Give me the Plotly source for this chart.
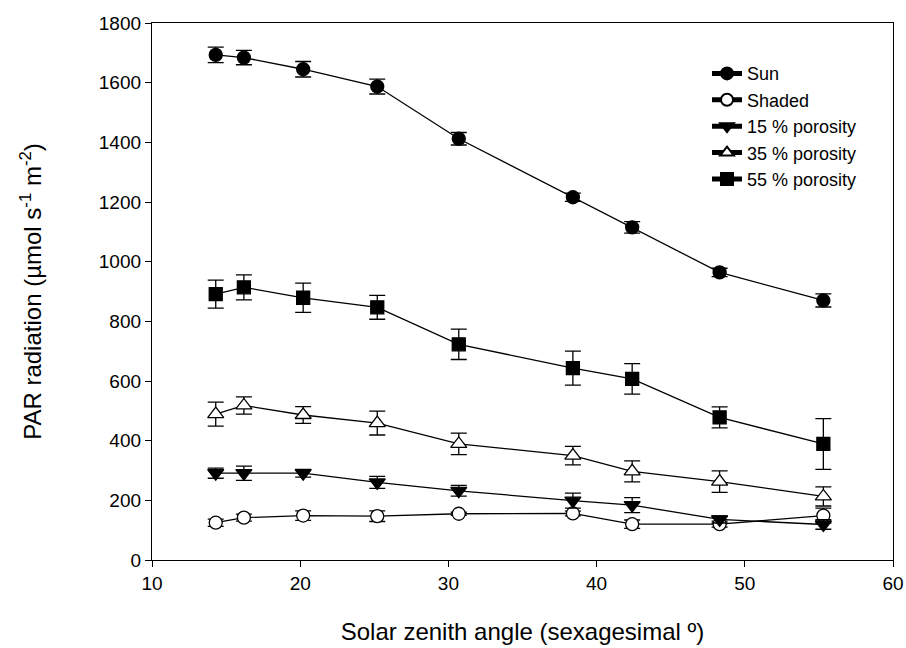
import plotly.graph_objects as go

angle = [14.3, 16.2, 20.2, 25.2, 30.7, 38.4, 42.4, 48.3, 55.3]

sun = [1693, 1684, 1645, 1587, 1412, 1216, 1115, 964, 870]
sun_err = [26, 24, 26, 25, 21, 14, 19, 14, 22]

shaded = [125, 142, 149, 147, 155, 156, 120, 120, 149]
shaded_err = [12, 12, 16, 18, 5, 8, 14, 10, 25]

p15 = [291, 291, 291, 260, 232, 199, 184, 136, 119]
p15_err = [17, 24, 13, 20, 18, 25, 25, 12, 16]

p35 = [489, 518, 486, 459, 389, 350, 297, 263, 213]
p35_err = [40, 29, 28, 40, 36, 31, 35, 36, 32]

p55 = [891, 914, 879, 847, 723, 643, 607, 478, 389]
p55_err = [47, 42, 49, 40, 51, 57, 51, 35, 85]

series = [
    ("Sun", sun, sun_err, "circle", "black", 13),
    ("Shaded", shaded, shaded_err, "circle", "white", 13),
    ("15 % porosity", p15, p15_err, "triangle-down", "black", 14),
    ("35 % porosity", p35, p35_err, "triangle-up", "white", 14),
    ("55 % porosity", p55, p55_err, "square", "black", 13),
]

fig = go.Figure()
for name, y, e, sym, fill, sz in series:
    fig.add_trace(go.Scatter(
        x=angle, y=y, name=name, mode="lines+markers",
        line=dict(color="black", width=1.3),
        marker=dict(symbol=sym, size=sz, color=fill,
                    line=dict(color="black", width=1.3)),
        error_y=dict(type="data", array=e, visible=True, color="black",
                     thickness=1.3, width=8),
    ))

fig.update_layout(
    width=906, height=648,
    margin=dict(l=152, r=13, t=23, b=88),
    paper_bgcolor="white", plot_bgcolor="white",
    font=dict(family="Liberation Sans, Arial, sans-serif", size=18, color="black"),
    showlegend=True,
    legend=dict(x=0.749, y=0.94, xanchor="left", yanchor="top",
                bgcolor="rgba(0,0,0,0)", font=dict(size=18),
                tracegroupgap=0, itemsizing="constant"),
    xaxis=dict(range=[10, 60], dtick=10, tick0=10, showgrid=False, zeroline=False,
               showline=True, linecolor="black", linewidth=1.3, mirror=True,
               ticks="outside", ticklen=6, tickwidth=1.3, tickcolor="black",
               tickfont=dict(size=19), automargin=False,
               title=dict(text="Solar zenith angle (sexagesimal º)", font=dict(size=24), standoff=30)),
    yaxis=dict(range=[0, 1800], dtick=200, tick0=0, showgrid=False, zeroline=False,
               showline=True, linecolor="black", linewidth=1.3, mirror=True,
               ticks="outside", ticklen=6, tickwidth=1.3, tickcolor="black",
               tickfont=dict(size=19), automargin=False,
               title=dict(text="PAR radiation (µmol s<sup>-1</sup> m<sup>-2</sup>)", font=dict(size=24), standoff=50)),
)

fig.write_html("out.html")
